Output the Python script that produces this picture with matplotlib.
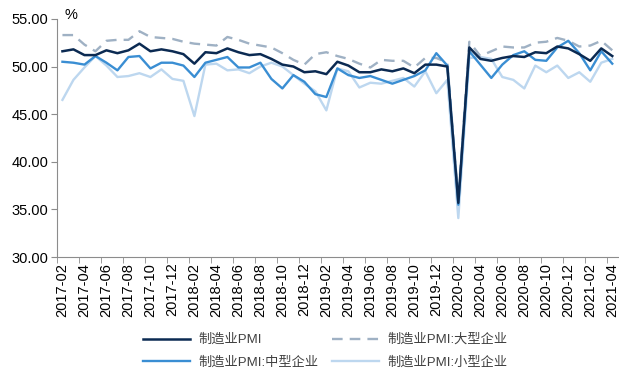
import numpy as np
import pandas as pd
import matplotlib
matplotlib.use('Agg')
import matplotlib.pyplot as plt

plt.rcParams['font.family'] = ['Liberation Sans', 'Noto Sans CJK SC', 'DejaVu Sans']

# monthly categories 2017-02 .. 2021-04
months = list(pd.period_range('2017-02', '2021-04', freq='M').strftime('%Y-%m'))

# manufacturing PMI, overall
pmi_total = [51.6, 51.8, 51.2, 51.2, 51.7, 51.4, 51.7, 52.4, 51.6, 51.8, 51.6,
             51.3, 50.3, 51.5, 51.4, 51.9, 51.5, 51.2, 51.3, 50.8, 50.2, 50.0, 49.4,
             49.5, 49.2, 50.5, 50.1, 49.4, 49.4, 49.7, 49.5, 49.8, 49.3, 50.2, 50.2,
             50.0, 35.7, 52.0, 50.8, 50.6, 50.9, 51.1, 51.0, 51.5, 51.4, 52.1, 51.9,
             51.3, 50.6, 51.9, 51.1]

# large enterprises
pmi_large = [53.3, 53.3, 52.3, 51.6, 52.7, 52.8, 52.8, 53.7, 53.1, 53.0, 52.9,
             52.6, 52.4, 52.3, 52.2, 53.1, 52.8, 52.4, 52.2, 52.0, 51.4, 50.7, 50.2,
             51.3, 51.5, 51.1, 50.8, 50.3, 49.9, 50.7, 50.6, 50.6, 49.9, 50.9, 50.9,
             50.4, 36.1, 52.6, 51.1, 51.6, 52.1, 52.0, 52.0, 52.5, 52.6, 53.0, 52.7,
             52.1, 52.2, 52.7, 51.7]

# medium enterprises
pmi_medium = [50.5, 50.4, 50.2, 51.1, 50.4, 49.6, 51.0, 51.1, 49.8, 50.4, 50.4,
              50.1, 48.9, 50.4, 50.7, 51.0, 49.9, 49.9, 50.4, 48.7, 47.7, 49.1, 48.4,
              47.1, 46.8, 49.8, 49.1, 48.8, 49.0, 48.6, 48.2, 48.6, 49.0, 49.6, 51.4,
              50.1, 35.5, 51.6, 50.2, 48.8, 50.2, 51.2, 51.6, 50.7, 50.6, 52.0, 52.7,
              51.4, 49.6, 51.6, 50.3]

# small enterprises
pmi_small = [46.5, 48.6, 49.9, 51.1, 50.1, 48.9, 49.0, 49.3, 48.9, 49.7, 48.7,
             48.5, 44.8, 50.2, 50.3, 49.6, 49.7, 49.3, 50.0, 50.4, 50.0, 49.1, 48.2,
             47.4, 45.4, 49.8, 49.5, 47.8, 48.3, 48.2, 48.5, 48.8, 47.9, 49.5, 47.2,
             48.6, 34.1, 50.9, 51.0, 50.8, 48.9, 48.6, 47.7, 50.1, 49.4, 50.1, 48.8,
             49.4, 48.4, 50.4, 50.8]

x = np.arange(len(months))

fig, ax = plt.subplots(figsize=(6.19, 3.70), dpi=100)
fig.subplots_adjust(left=0.092, right=0.998, bottom=0.305, top=0.949)

l_small, = ax.plot(x, pmi_small, color='#bdd7ef', lw=1.7, zorder=1, label='制造业PMI:小型企业')
l_large, = ax.plot(x, pmi_large, color='#9fb1c4', lw=1.7, dashes=(4.5, 3), zorder=2,
                   label='制造业PMI:大型企业')
l_medium, = ax.plot(x, pmi_medium, color='#3a8ed3', lw=1.7, zorder=3, label='制造业PMI:中型企业')
l_total, = ax.plot(x, pmi_total, color='#0b2a52', lw=1.8, zorder=4, label='制造业PMI')

ax.set_xlim(-0.5, len(months) - 0.5)
ax.set_ylim(30, 55)
ax.set_yticks(np.arange(30, 56, 5))
ax.set_yticklabels([f'{v:.2f}' for v in np.arange(30, 56, 5)])

# labels every second month, tick marks on category boundaries
ax.set_xticks(x[::2])
ax.set_xticklabels(months[::2], rotation=90)
ax.set_xticks(np.arange(-0.5, len(months), 2), minor=True)
ax.tick_params(axis='x', which='major', length=0, pad=4, labelsize=10.5)
ax.tick_params(axis='x', which='minor', length=4, color='#8c8c8c', direction='out')
ax.tick_params(axis='y', length=4, color='#8c8c8c', labelsize=10.5, pad=2)

for side in ['top', 'right']:
    ax.spines[side].set_visible(False)
for side in ['left', 'bottom']:
    ax.spines[side].set_color('#8c8c8c')

ax.text(0.013, 1.015, '%', transform=ax.transAxes, ha='left', va='center', fontsize=10.5)

fig.legend(handles=[l_total, l_medium, l_large, l_small], ncol=2, loc='upper center',
           bbox_to_anchor=(0.525, 0.13), frameon=False, fontsize=9.5,
           handlelength=3.6, columnspacing=1.0, labelspacing=0.8, handletextpad=0.6,
           labelcolor='#404040')

fig.savefig('out.png', dpi=100)
